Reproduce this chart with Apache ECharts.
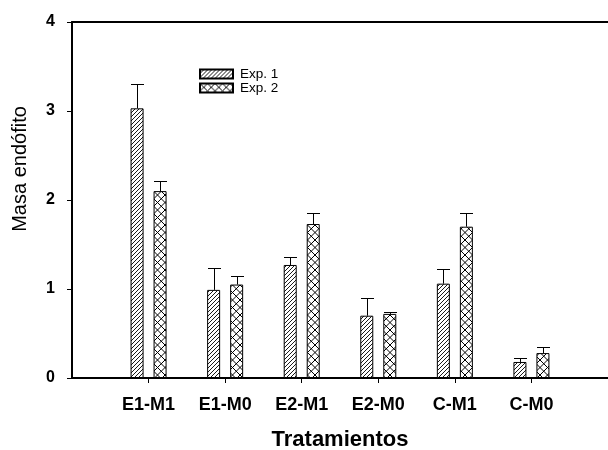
<!DOCTYPE html>
<html>
<head>
<meta charset="utf-8">
<script src="https://cdn.jsdelivr.net/npm/echarts@6/dist/echarts.min.js"></script>
<style>html,body{margin:0;padding:0;background:#fff}#c{width:608px;height:450px}</style>
</head>
<body>
<div id="c"></div>
<script>
const categories = ['E1-M1', 'E1-M0', 'E2-M1', 'E2-M0', 'C-M1', 'C-M0'];
const seriesNames = ['Exp. 1', 'Exp. 2'];
const exp1 = [3.03, 0.99, 1.27, 0.70, 1.06, 0.18];
const exp2 = [2.10, 1.05, 1.73, 0.72, 1.70, 0.28];
const exp1Err = [0.27, 0.25, 0.085, 0.195, 0.17, 0.05];
const exp2Err = [0.11, 0.10, 0.12, 0.02, 0.15, 0.065];
const yTicks = [0, 1, 2, 3, 4];

const FONT = '"Liberation Sans", Arial, sans-serif';

function hatchPattern() {
  const s = 4;
  const c = document.createElement('canvas');
  c.width = s; c.height = s;
  const g = c.getContext('2d');
  g.fillStyle = '#fff'; g.fillRect(0, 0, s, s);
  g.strokeStyle = '#000'; g.lineWidth = 0.9;
  g.beginPath();
  g.moveTo(-1, s + 1); g.lineTo(s + 1, -1);
  g.moveTo(-1, 1); g.lineTo(1, -1);
  g.moveTo(s - 1, s + 1); g.lineTo(s + 1, s - 1);
  g.stroke();
  return c;
}
function crossPattern() {
  const s = 7.5;
  const c = document.createElement('canvas');
  c.width = 15; c.height = 15;
  const g = c.getContext('2d');
  g.fillStyle = '#fff'; g.fillRect(0, 0, 15, 15);
  g.strokeStyle = '#000'; g.lineWidth = 1;
  g.beginPath();
  for (let k = -2; k <= 4; k++) {
    g.moveTo(k * s - 1, -1); g.lineTo(k * s + 16, 16);
    g.moveTo(k * s + 1, -1); g.lineTo(k * s - 16, 16);
  }
  g.stroke();
  return c;
}

// pad categories so that the axis spans one extra step on each side
const paddedCats = [''].concat(categories, ['']);
const pad = arr => ['-'].concat(arr, ['-']);

function errData(means, errs) {
  return means.map((m, i) => [i + 1, m, errs[i]]);
}
function errRenderer(offset) {
  return function (params, api) {
    const idx = api.value(0), m = api.value(1), e = api.value(2);
    const base = api.coord([idx, m]);
    const top = api.coord([idx, m + e]);
    const x = Math.round(base[0] + offset) + 0.5;
    const yt = Math.round(top[1]) + 0.5;
    return {
      type: 'group',
      children: [
        { type: 'line', shape: { x1: x, y1: base[1], x2: x, y2: yt }, style: { stroke: '#000', lineWidth: 1 } },
        { type: 'line', shape: { x1: x - 6.5, y1: yt, x2: x + 6.5, y2: yt }, style: { stroke: '#000', lineWidth: 1 } }
      ]
    };
  };
}

const chart = echarts.init(document.getElementById('c'), null, { renderer: 'canvas' });
chart.setOption({
  animation: false,
  backgroundColor: '#fff',
  grid: { left: 72, right: 0, top: 22, bottom: 72, containLabel: false, outerBoundsMode: 'none' },
  legend: {
    orient: 'vertical', left: 199, top: 67, padding: 0, itemWidth: 33, itemHeight: 9, itemGap: 0, icon: 'rect',
    data: seriesNames,
    textStyle: { fontFamily: FONT, fontSize: 13.5, lineHeight: 12.5, color: '#000', padding: [0, 0, 0, 2] }
  },
  xAxis: [{
    type: 'category', data: paddedCats, boundaryGap: false,
    axisLine: { lineStyle: { color: '#000', width: 2 } },
    axisTick: { show: true, length: 5, interval: (i) => i > 0 && i < paddedCats.length - 1, lineStyle: { color: '#000', width: 1 } },
    axisLabel: { interval: 0, color: '#000', fontFamily: FONT, fontWeight: 'bold', fontSize: 18, margin: 18 },
    name: 'Tratamientos', nameLocation: 'middle', nameGap: 51,
    nameTextStyle: { fontFamily: FONT, fontWeight: 'bold', fontSize: 22, color: '#000' },
    splitLine: { show: false }
  }, {
    type: 'category', data: paddedCats, boundaryGap: false, position: 'top',
    axisLine: { lineStyle: { color: '#000', width: 2 } },
    axisTick: { show: false }, axisLabel: { show: false }, splitLine: { show: false }
  }],
  yAxis: {
    type: 'value', min: yTicks[0], max: yTicks[yTicks.length - 1], interval: 1,
    axisLine: { show: true, lineStyle: { color: '#000', width: 2 } },
    axisTick: { show: true, length: 5, lineStyle: { color: '#000', width: 1 } },
    axisLabel: { color: '#000', fontFamily: FONT, fontWeight: 'bold', fontSize: 16, margin: 17 },
    splitLine: { show: false },
    name: 'Masa endófito', nameLocation: 'middle', nameGap: 42, nameRotate: 90,
    nameTextStyle: { fontFamily: FONT, fontSize: 20, color: '#000', padding: [0, 0, 0, 62] }
  },
  series: [{
    name: seriesNames[0], type: 'bar', data: pad(exp1), barWidth: 13, barGap: '77%',
    itemStyle: { color: { image: hatchPattern(), repeat: 'repeat' }, borderColor: '#000', borderWidth: 1 }
  }, {
    name: seriesNames[1], type: 'bar', data: pad(exp2), barWidth: 13, barGap: '77%',
    itemStyle: { color: { image: crossPattern(), repeat: 'repeat' }, borderColor: '#000', borderWidth: 1 }
  }, {
    type: 'custom', data: errData(exp1, exp1Err), renderItem: errRenderer(-11.5),
    encode: { x: 0, y: 1 }, z: 5, silent: true
  }, {
    type: 'custom', data: errData(exp2, exp2Err), renderItem: errRenderer(11.5),
    encode: { x: 0, y: 1 }, z: 5, silent: true
  }]
});
</script>
</body>
</html>
